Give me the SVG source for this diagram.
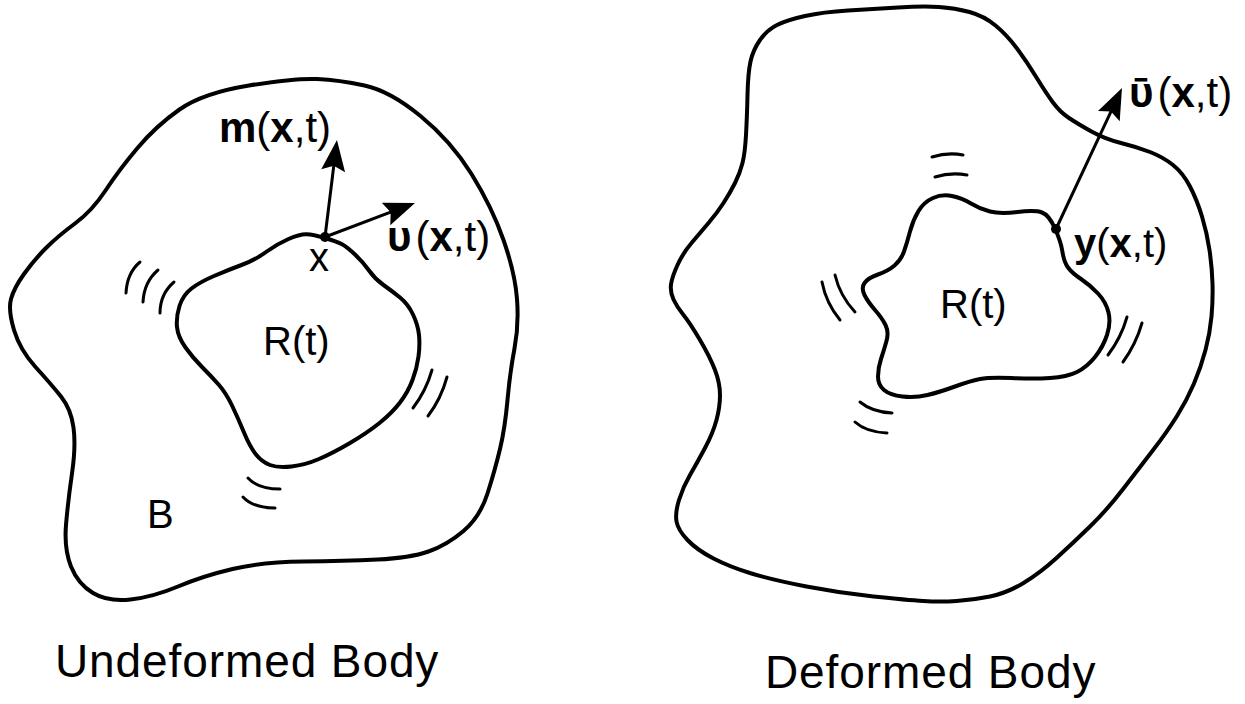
<svg xmlns="http://www.w3.org/2000/svg" width="1245" height="704" viewBox="0 0 1245 704">
<defs>
<style>
.body{fill:none;stroke:#000;stroke-width:4;stroke-linejoin:round;stroke-linecap:round}
.hatch{fill:none;stroke:#000;stroke-width:3;stroke-linecap:round}
.arrow{fill:none;stroke:#000;stroke-width:3}
.lbl{font-family:"Liberation Sans","DejaVu Sans",Arial,sans-serif;font-size:40px;fill:#000}
.big{font-size:42px}
.b{font-weight:bold}
.cap{font-family:"Liberation Sans",Arial,sans-serif;font-size:46px;fill:#000;letter-spacing:0.9px}
</style>
<marker id="ah" markerUnits="userSpaceOnUse" markerWidth="40" markerHeight="30" refX="0" refY="0" orient="auto" overflow="visible">
<path d="M12,0 L-19,-12 L-14,0 L-19,12 Z" fill="#000"/>
</marker>
</defs>
<rect width="1245" height="704" fill="#fff"/>

<g id="undeformed-body">
<path class="body" d="M249,85.5 Q295,78 317,79 Q339,80 364.5,85.5 Q390,91 420.5,116 Q451,141 471.5,174 Q492,207 503.5,240 Q515,273 517,299 Q519,325 514.5,348.5 Q510,372 507.5,400 Q505,428 500,449 Q495,470 487.5,493.5 Q480,517 463.5,531 Q447,545 428.5,551.5 Q410,558 377.5,559.5 Q345,561 303.5,561.5 Q262,562 232.5,569 Q203,576 178,586.5 Q153,597 130.5,599.5 Q108,602 93,593 Q78,584 71,566.5 Q64,549 66,525 Q68,501 72,473.5 Q76,446 73.5,427.5 Q71,409 61,396.5 Q51,384 35.5,367 Q20,350 14,330 Q8,310 11,299 Q14,288 24,274 Q34,260 46,248 Q58,236 75,223.5 Q92,211 105.5,190.5 Q119,170 137.5,148 Q156,126 179.5,109.5 Q203,93 249,85.5 Z"/>
<text class="lbl" x="147" y="528">B</text>
</g>

<g id="undeformed-region">
<path class="body" d="M325,238 Q337,241.5 342,244.25 Q347,247 355,254.5 Q363,262 369,270.5 Q375,279 383.5,285 Q392,291 400,297.5 Q408,304 413,314.5 Q418,325 419,335 Q420,345 418.5,356.5 Q417,368 412.5,380 Q408,392 400,402.5 Q392,413 379.5,423 Q367,433 350,443 Q333,453 319,459 Q305,465 291.5,466.5 Q278,468 270,465 Q262,462 256,454.5 Q250,447 244,432.5 Q238,418 232,405.5 Q226,393 219,385 Q212,377 202.5,367.5 Q193,358 185.5,347.5 Q178,337 177,327 Q176,317 179.5,306 Q183,295 191.5,288.5 Q200,282 214,276 Q228,270 241.5,265 Q255,260 266,252 Q277,244 288.5,239 Q300,234 306.5,234.25 Q313,234.5 325,238 Z"/>
<text class="lbl" x="263" y="355">R(t)</text>
<path class="hatch" d="M140,262 Q127,273 126,293 M158,270 Q144,282 143,302 M174,282 Q160,294 160,313"/>
<path class="hatch" d="M432,370 Q426,391 413,408 M447,377 Q441,399 428,416"/>
<path class="hatch" d="M248,478 Q258,489 280,489 M243,497 Q253,508 275,508"/>
</g>

<g id="point-x">
<circle cx="325" cy="237" r="5" fill="#000"/>
<text class="lbl" x="309" y="271">x</text>
</g>

<g id="label-m">
<text class="lbl big" x="219" y="142"><tspan class="b">m</tspan>(<tspan class="b">x</tspan>,t)</text>
</g>
<g id="label-v">
<text class="lbl big" x="387" y="251"><tspan class="b">υ</tspan><tspan dx="4">(</tspan><tspan class="b">x</tspan>,t)</text>
</g>

<g id="deformed-body">
<path class="body" d="M760,40 Q767,30 777,25 Q787,20 805,16 Q823,12 848,10.5 Q873,9 898,7.5 Q923,6 939,7 Q955,8 969.5,12 Q984,16 995.5,25.5 Q1007,35 1017,48.5 Q1027,62 1036.5,77.5 Q1046,93 1053,102.5 Q1060,112 1069,118 Q1078,124 1091.5,131.5 Q1105,139 1121,143 Q1137,147 1150,152 Q1163,157 1173,165 Q1183,173 1190,186.5 Q1197,200 1202,216.5 Q1207,233 1209.5,250 Q1212,267 1212.5,283.5 Q1213,300 1211.5,316.5 Q1210,333 1205.5,350 Q1201,367 1194,383.5 Q1187,400 1177,416 Q1167,432 1153.5,449.5 Q1140,467 1123.5,488.5 Q1107,510 1090,526.5 Q1073,543 1056.5,558 Q1040,573 1023.5,583 Q1007,593 990,596.5 Q973,600 956.5,601 Q940,602 923.5,601 Q907,600 873.5,596.5 Q840,593 806.5,586.5 Q773,580 751.5,573.5 Q730,567 713.5,558.5 Q697,550 687.5,540 Q678,530 676.5,521.5 Q675,513 679,500 Q683,487 690,475 Q697,463 705,448 Q713,433 716.5,420 Q720,407 720,395 Q720,383 715,370 Q710,357 700,340 Q690,323 683.5,315 Q677,307 673.5,299.5 Q670,292 671,284.5 Q672,277 677.5,265 Q683,253 691.5,243 Q700,233 708.5,223 Q717,213 723.5,203 Q730,193 735,183 Q740,173 742.5,163 Q745,153 746,135 Q747,117 747.5,95 Q748,73 750.5,61.5 Q753,50 760,40 Z"/>
</g>

<g id="deformed-region">
<path class="body" d="M1055,228.5 Q1061,242 1062.5,252 Q1064,262 1068,267.5 Q1072,273 1081,279 Q1090,285 1098,293.5 Q1106,302 1108.5,312.5 Q1111,323 1107,335 Q1103,347 1095,357 Q1087,367 1077,372 Q1067,377 1050,378 Q1033,379 1011.5,378 Q990,377 980,379 Q970,381 955,386.5 Q940,392 927.5,395 Q915,398 902.5,396.5 Q890,395 884,390 Q878,385 878,376.5 Q878,368 881,359 Q884,350 886.5,341 Q889,332 885.5,325 Q882,318 875,310 Q868,302 864.5,295 Q861,288 864.5,283 Q868,278 878,274.5 Q888,271 894.5,265.5 Q901,260 904,251.5 Q907,243 910,231.5 Q913,220 918.5,211 Q924,202 933,198 Q942,194 952,196 Q962,198 971,203.5 Q980,209 990,211.5 Q1000,214 1017.5,212 Q1035,210 1042,212.5 Q1049,215 1055,228.5 Z"/>
<text class="lbl" x="940" y="318">R(t)</text>
<path class="hatch" d="M932,157 Q948,152 963,155 M935,177 Q951,172 967,175"/>
<path class="hatch" d="M822,282 Q826,303 840,320 M835,275 Q840,296 855,312"/>
<path class="hatch" d="M1127,317 Q1121,338 1108,355 M1142,323 Q1136,344 1123,362"/>
<path class="hatch" d="M860,402 Q872,412 892,413 M855,422 Q866,432 887,433"/>
</g>

<g id="point-y">
<circle cx="1056" cy="229" r="5" fill="#000"/>
<text class="lbl" x="1074" y="257"><tspan class="b">y</tspan>(<tspan class="b">x</tspan>,t)</text>
</g>

<g id="label-vbar">
<text class="lbl big" x="1129" y="107"><tspan class="b">ῡ</tspan><tspan dx="4">(</tspan><tspan class="b">x</tspan>,t)</text>
</g>

<g id="connectors">
<line class="arrow" x1="325" y1="237" x2="335.5" y2="151.9" marker-end="url(#ah)"/>
<line class="arrow" x1="325" y1="237" x2="403.8" y2="207.2" marker-end="url(#ah)"/>
<line class="arrow" x1="1056" y1="229" x2="1116.9" y2="98.9" marker-end="url(#ah)"/>
</g>

<g id="captions">
<text class="cap" x="55" y="677">Undeformed Body</text>
<text class="cap" x="765" y="688">Deformed Body</text>
</g>
</svg>
